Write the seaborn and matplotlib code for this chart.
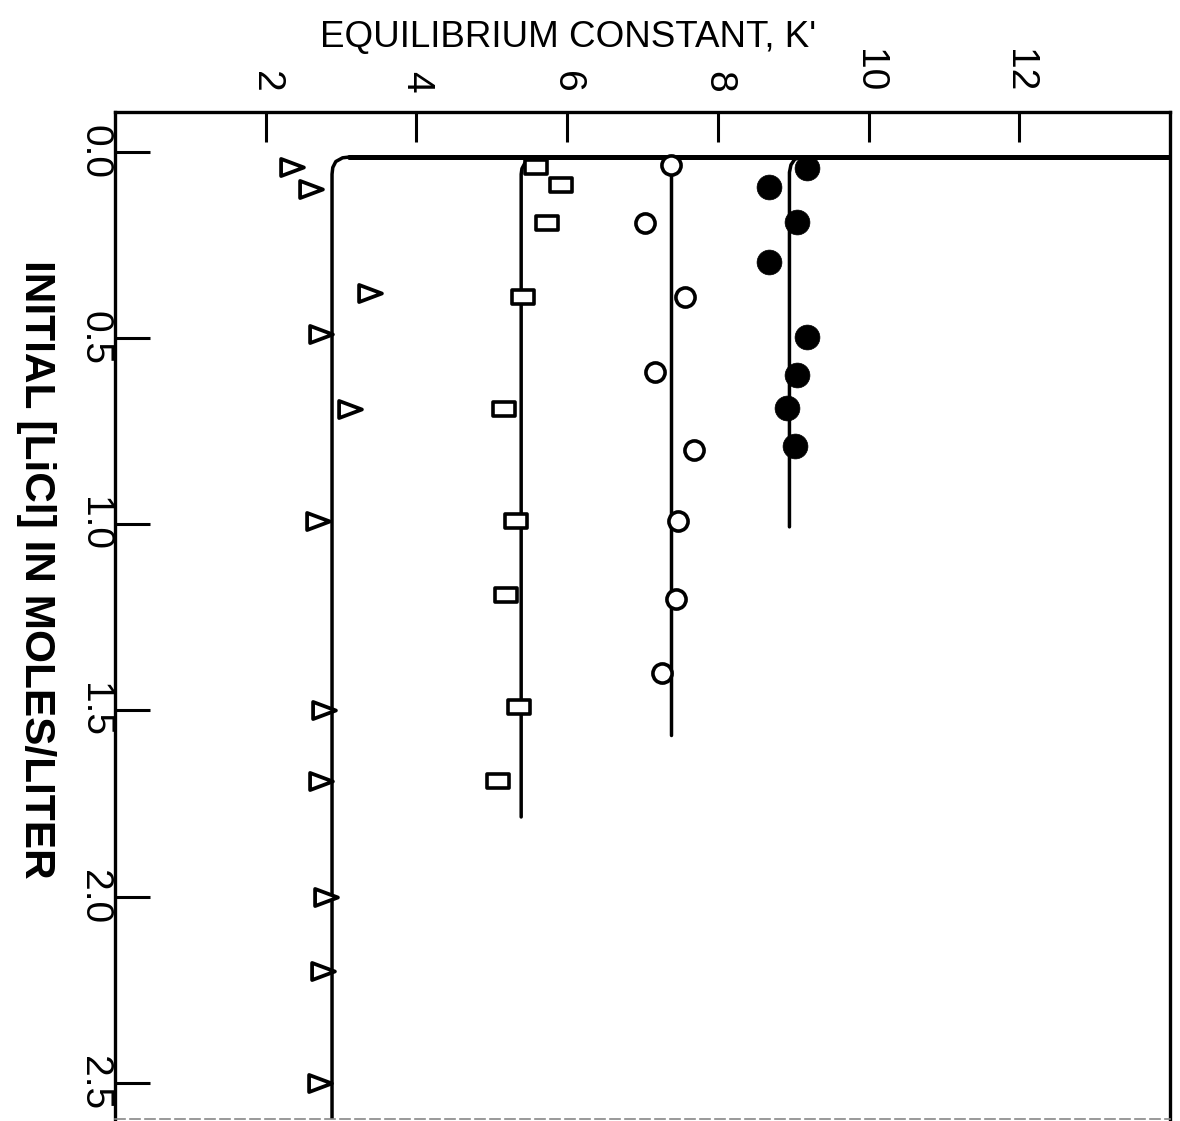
import matplotlib
matplotlib.use("Agg")
import matplotlib.pyplot as plt
import seaborn as sns
import numpy as np
import pandas as pd
from matplotlib.path import Path

# ---------------- data ----------------
# triangles
tri_conc = [0.04, 0.10, 0.38, 0.49, 0.69, 0.99, 1.50, 1.69, 2.00, 2.20, 2.50]
tri_k = [2.35, 2.60, 3.38, 2.74, 3.12, 2.70, 2.77, 2.73, 2.80, 2.76, 2.72]
# squares
sq_conc = [0.04, 0.09, 0.19, 0.39, 0.69, 0.99, 1.19, 1.49, 1.69]
sq_k = [5.59, 5.92, 5.73, 5.41, 5.16, 5.32, 5.19, 5.36, 5.08]
# open circles
oc_conc = [0.035, 0.19, 0.39, 0.59, 0.80, 0.99, 1.20, 1.40]
oc_k = [7.38, 7.03, 7.56, 7.17, 7.68, 7.47, 7.45, 7.26]
# filled circles
fc_conc = [0.043, 0.094, 0.188, 0.295, 0.497, 0.599, 0.687, 0.79]
fc_k = [9.18, 8.68, 9.05, 8.68, 9.18, 9.05, 8.92, 9.03]

# drawn curves
top_line_k = [3.10, 14.0]
top_line_c = [0.013, 0.013]
tri_line_k = [3.15, 3.02, 2.93, 2.89, 2.88, 2.88]
tri_line_c = [0.013, 0.016, 0.026, 0.042, 0.060, 2.70]
sq_line_k = [5.62, 5.52, 5.44, 5.40, 5.39, 5.39]
sq_line_c = [0.013, 0.018, 0.030, 0.045, 0.060, 1.786]
oc_line_k = [7.38, 7.38]
oc_line_c = [0.013, 1.565]
fc_line_k = [9.12, 9.02, 8.97, 8.95, 8.95]
fc_line_c = [0.013, 0.020, 0.035, 0.055, 1.007]

k_ticks = [2, 4, 6, 8, 10, 12]
k_labels = ["2", "4", "6", "8", "10", "12"]
c_ticks = [0.0, 0.5, 1.0, 1.5, 2.0, 2.5]
c_labels = ["0.0", "0.5", "1.0", "1.5", "2.0", "2.5"]

x_title = "EQUILIBRIUM CONSTANT, K'"
y_title = "INITIAL [LiCl] IN MOLES/LITER"

# ---------------- style ----------------
sns.set_theme(style="white")
plt.rcParams["font.family"] = ["Liberation Sans", "DejaVu Sans"]

fig = plt.figure(figsize=(11.8, 11.21), dpi=100)
ax = fig.add_axes([115 / 1180, 1 - 1119 / 1121, (1170 - 115) / 1180, (1119 - 112) / 1121])

LW = 2.5
line_kw = dict(color="black", linewidth=LW, sort=False, estimator=None, ax=ax, zorder=2)
sns.lineplot(x=top_line_k, y=top_line_c, **{**line_kw, "linewidth": 3.6})
for kk, cc in [(tri_line_k, tri_line_c), (sq_line_k, sq_line_c),
               (oc_line_k, oc_line_c), (fc_line_k, fc_line_c)]:
    sns.lineplot(x=kk, y=cc, **line_kw)

tri_marker = Path([(1, 0), (-1, 0.75), (-1, -0.75), (1, 0)], closed=True)
rect_marker = Path([(-1, -0.7), (1, -0.7), (1, 0.7), (-1, 0.7), (-1, -0.7)], closed=True)

sns.scatterplot(x=tri_k, y=tri_conc, marker=tri_marker, s=270, color="white",
                edgecolor="black", linewidth=2.7, ax=ax, zorder=3)
sns.scatterplot(x=sq_k, y=sq_conc, marker=rect_marker, s=230, color="white",
                edgecolor="black", linewidth=2.6, ax=ax, zorder=3)
sns.scatterplot(x=oc_k, y=oc_conc, marker="o", s=190, color="white",
                edgecolor="black", linewidth=2.6, ax=ax, zorder=3)
sns.scatterplot(x=fc_k, y=fc_conc, marker="o", s=320, color="black",
                edgecolor="black", linewidth=0.5, ax=ax, zorder=3)

ax.set_xlim(0, 14)
ax.set_ylim(2.597, -0.107)

ax.xaxis.tick_top()
ax.set_xticks(k_ticks)
ax.set_xticklabels(k_labels)
ax.set_yticks(c_ticks)
ax.set_yticklabels(c_labels)
ax.tick_params(axis="x", which="both", top=True, bottom=False, direction="in",
               length=21.5, width=2.2, pad=14, labelsize=28, labelrotation=270,
               colors="black")
ax.tick_params(axis="y", which="both", left=True, right=False, direction="in",
               length=25, width=2.2, pad=2, labelsize=28, labelrotation=270,
               colors="black")
for lab in ax.get_yticklabels():
    lab.set_va("center")

for side in ["top", "left", "right"]:
    ax.spines[side].set_color("black")
    ax.spines[side].set_linewidth(2.4)
ax.spines["bottom"].set_color("#888888")
ax.spines["bottom"].set_linewidth(1.2)
ax.spines["bottom"].set_linestyle((0, (6, 3)))

ax.set_xlabel(x_title, fontsize=26.5, color="black")
ax.xaxis.set_label_position("top")
ax.xaxis.set_label_coords((568 - 115) / 1055, (1119 - 37) / 1007)
ax.xaxis.label.set_va("center")
ax.xaxis.label.set_ha("center")

ax.set_ylabel(y_title, fontsize=30.5, fontweight="bold", rotation=270, color="black")
ax.yaxis.set_label_coords((36 - 115) / 1055, (1119 - 569) / 1007)
ax.yaxis.label.set_va("center")
ax.yaxis.label.set_ha("center")

ax.grid(False)
fig.savefig("out.png", dpi=100, facecolor="white")
